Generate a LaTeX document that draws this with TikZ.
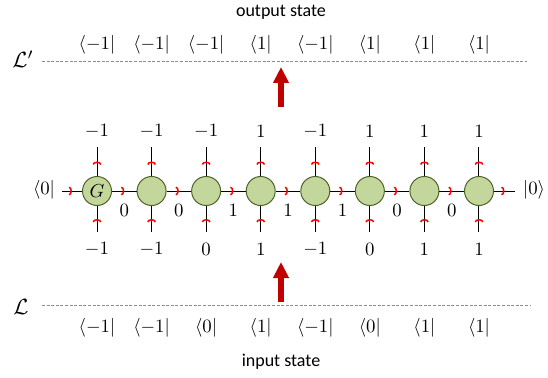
\documentclass[tikz,border=0pt]{standalone}
\usepackage{amsmath,amssymb}
\usepackage{graphicx}
\usepackage{fontspec}
\setmainfont{Carlito}
\usetikzlibrary{arrows.meta,decorations.markings}
\definecolor{sitegreen}{RGB}{195,214,155}
\definecolor{siteedge}{RGB}{79,98,40}
\definecolor{flowred}{RGB}{192,0,0}
\newcommand{\idx}[1]{\scalebox{1.88}{$#1$}}

\begin{document}
\begin{tikzpicture}[x=1pt,y=-1pt]
  \tikzset{
    site/.style={circle,draw=siteedge,fill=sitegreen,line width=1pt,minimum size=29pt,inner sep=0pt},
    leg/.style={draw=black,line width=1pt,postaction={decorate},
      decoration={markings,mark=at position 0.5 with {\arrow{Arc Barb[color=red,length=3pt,width=9pt,line width=1.5pt]}}}},
    lab/.style={inner sep=0pt},
    state/.style={font=\fontsize{18}{22}\selectfont,inner sep=0pt},
    layer/.style={draw=black!45,line width=0.8pt,dash pattern=on 3pt off 1.6pt},
    push/.style={draw=flowred,line width=5.5pt,-{Triangle[length=16pt,width=15pt]}},
  }
  \useasboundingbox (0,0) rectangle (548,377);

  % tensor sites, open legs and their indices
  \foreach \i/\up/\dn in {1/-1/-1,2/-1/-1,3/-1/0,4/1/1,5/-1/-1,6/1/0,7/1/1,8/1/1} {
    \pgfmathsetmacro{\sx}{97+54.57*(\i-1)}
    \node[site] (g\i) at (\sx,191) {};
    \coordinate (u\i) at (\sx,147);
    \coordinate (d\i) at (\sx,232);
    \draw[leg] (g\i.north) -- (u\i);
    \draw[leg] (d\i) -- (g\i.south);
    \node[lab] (o\i) at (\sx,131) {\idx{\up}};
    \node[lab] (i\i) at (\sx,249) {\idx{\dn}};
    \node[lab] (ob\i) at (\sx,45) {\idx{\langle \up|}};
    \node[lab] (ib\i) at (\sx,328) {\idx{\langle \dn|}};
  }
  \node[lab] at (g1) {\idx{G}};

  % bonds between sites
  \foreach \a/\b/\v in {1/2/0,2/3/0,3/4/1,4/5/1,5/6/1,6/7/0,7/8/0} {
    \draw[leg] (g\a) -- (g\b);
    \path (g\a) -- (g\b) node[lab,midway,yshift=-19pt] (k\a) {\idx{\v}};
  }

  % boundary vectors
  \node[lab] (lv) at (44,190) {\idx{\langle 0|}};
  \node[lab] (rv) at (534,190) {\idx{|0\rangle}};
  \coordinate (le) at (62,191);
  \coordinate (re) at (515,191);
  \draw[leg] (le) -- (g1);
  \draw[leg] (g8) -- (re);

  % layers
  \coordinate (tl) at (42,61); \coordinate (tr) at (527,61);
  \coordinate (bl) at (42,305); \coordinate (br) at (530,305);
  \draw[layer] (tl) -- (tr);
  \draw[layer] (bl) -- (br);
  \node[lab] (Lt) at (23,59) {\scalebox{2.2}{$\mathcal{L}'$}};
  \node[lab] (Lb) at (21,307) {\scalebox{2.2}{$\mathcal{L}$}};
  \node[state] (out) at (281,12) {output state};
  \node[state] (in) at (281,362) {input state};

  % flow arrows
  \coordinate (pa) at (281,107); \coordinate (pb) at (281,67);
  \coordinate (qa) at (281,302); \coordinate (qb) at (281,262);
  \draw[push] (pa) -- (pb);
  \draw[push] (qa) -- (qb);
\end{tikzpicture}
\end{document}
